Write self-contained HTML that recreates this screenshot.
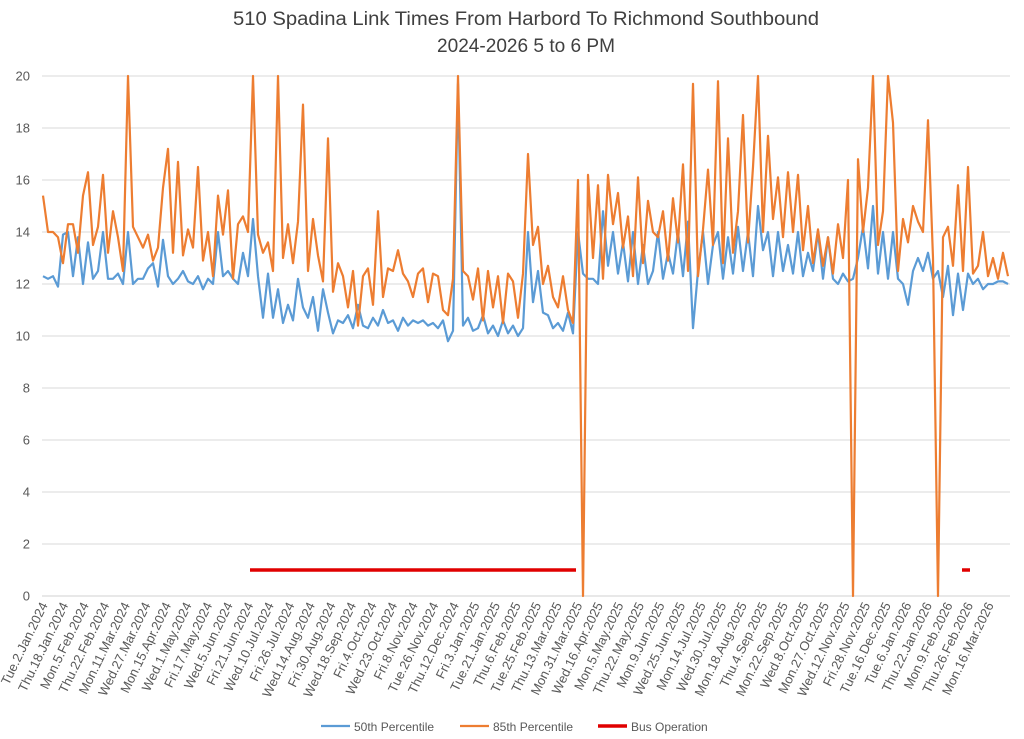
<!DOCTYPE html>
<html><head><meta charset="utf-8"><style>
html,body{margin:0;padding:0;background:#fff;}
svg{display:block;font-family:"Liberation Sans",Arial,sans-serif;}
</style></head><body>
<svg id="chart" width="1024" height="739" viewBox="0 0 1024 739">
<text x="526" y="25" text-anchor="middle" font-size="19" fill="#404040" textLength="586" lengthAdjust="spacingAndGlyphs">510 Spadina Link Times From Harbord To Richmond Southbound</text>
<text x="526" y="52" text-anchor="middle" font-size="19" fill="#404040" textLength="178" lengthAdjust="spacingAndGlyphs">2024-2026 5 to 6 PM</text>
<defs><clipPath id="pc"><rect x="38" y="74" width="976" height="524"/></clipPath></defs>
<g id="grid"></g>
<g id="ylab"></g>
<g id="xlab"></g>
<g id="series" clip-path="url(#pc)"></g>
<g>
<g><line x1="321" y1="726" x2="350" y2="726" stroke="#5b9bd5" stroke-width="2.2"/><text x="354" y="731" font-size="12" fill="#595959">50th Percentile</text></g>
<g><line x1="460" y1="726" x2="489" y2="726" stroke="#ed7d31" stroke-width="2.2"/><text x="493" y="731" font-size="12" fill="#595959">85th Percentile</text></g>
<g><line x1="598" y1="726" x2="627" y2="726" stroke="#e00000" stroke-width="3.5"/><text x="631" y="731" font-size="12" fill="#595959">Bus Operation</text></g>
</g>
</svg>
<script>
const xLabels=["Tue.2.Jan.2024","Thu.18.Jan.2024","Mon.5.Feb.2024","Thu.22.Feb.2024","Mon.11.Mar.2024","Wed.27.Mar.2024","Mon.15.Apr.2024","Wed.1.May.2024","Fri.17.May.2024","Wed.5.Jun.2024","Fri.21.Jun.2024","Wed.10.Jul.2024","Fri.26.Jul.2024","Wed.14.Aug.2024","Fri.30.Aug.2024","Wed.18.Sep.2024","Fri.4.Oct.2024","Wed.23.Oct.2024","Fri.8.Nov.2024","Tue.26.Nov.2024","Thu.12.Dec.2024","Fri.3.Jan.2025","Tue.21.Jan.2025","Thu.6.Feb.2025","Tue.25.Feb.2025","Thu.13.Mar.2025","Mon.31.Mar.2025","Wed.16.Apr.2025","Mon.5.May.2025","Thu.22.May.2025","Mon.9.Jun.2025","Wed.25.Jun.2025","Mon.14.Jul.2025","Wed.30.Jul.2025","Mon.18.Aug.2025","Thu.4.Sep.2025","Mon.22.Sep.2025","Wed.8.Oct.2025","Mon.27.Oct.2025","Wed.12.Nov.2025","Fri.28.Nov.2025","Tue.16.Dec.2025","Tue.6.Jan.2026","Thu.22.Jan.2026","Mon.9.Feb.2026","Thu.26.Feb.2026","Mon.16.Mar.2026"];
const yTicks=[0,2,4,6,8,10,12,14,16,18,20];
const p85=[15.4,14,14,13.8,12.8,14.3,14.3,13.2,15.4,16.3,
13.5,14.2,16.2,13.2,14.8,13.8,12.5,20,14.2,13.8,
13.4,13.9,12.9,13.4,15.7,17.2,13.2,16.7,13.1,14.1,
13.4,16.5,12.9,14,12.3,15.4,13.9,15.6,12.2,14.3,
14.6,14,20,13.9,13.2,13.6,12.5,20,13,14.3,
12.8,14.4,18.9,12.5,14.5,13.1,12.1,17.6,11.7,12.8,
12.3,11.1,12.5,10.4,12.3,12.6,11.2,14.8,11.5,12.6,
12.5,13.3,12.4,12.1,11.5,12.4,12.6,11.3,12.4,12.3,
11,10.8,12.2,20,12.5,12.3,11.4,12.6,10.6,12.5,
11.1,12.3,10.5,12.4,12.1,10.7,12.4,17,13.5,14.2,
12,12.7,11.5,11.1,12.3,11,10.5,16,0,16.2,
13,15.8,12.2,16.2,14.3,15.5,13.4,14.6,12.3,16.1,
12.8,15.2,14,13.8,14.8,12.9,15.3,13.6,16.6,12.5,
19.7,12.3,14.1,16.4,13.5,19.8,12.8,17.6,13.2,14.8,
18.5,13.6,16.5,20,14,17.7,14.5,16.1,13.8,16.3,
14,16.2,13.3,15,12.8,14.1,12.7,13.8,12.4,14.3,
13,16,0,16.8,14,15.7,20,13.5,14.8,20,
18.2,12.5,14.5,13.6,15,14.4,14,18.3,13,0,
13.8,14.2,12.7,15.8,12.5,16.5,12.4,12.7,14,12.3,
13,12.2,13.2,12.3];
const p50=[12.3,12.2,12.3,11.9,13.9,14,12.3,13.8,12,13.6,
12.2,12.5,14,12.2,12.2,12.4,12,14,12,12.2,
12.2,12.6,12.8,11.9,13.7,12.3,12,12.2,12.5,12.1,
12,12.3,11.8,12.2,12,14,12.3,12.5,12.2,12,
13.2,12.3,14.5,12.3,10.7,12.4,10.7,11.8,10.5,11.2,
10.6,12.2,11.1,10.7,11.5,10.2,11.8,10.9,10.1,10.6,
10.5,10.8,10.3,11.2,10.4,10.3,10.7,10.4,11,10.5,
10.6,10.2,10.7,10.4,10.6,10.5,10.6,10.4,10.5,10.3,
10.6,9.8,10.2,19.7,10.4,10.7,10.2,10.3,10.8,10.1,
10.4,10,10.6,10.1,10.4,10,10.3,14,11.3,12.5,
10.9,10.8,10.3,10.5,10.2,10.9,10.1,14,12.4,12.2,
12.2,12,14.8,12.7,14,12.4,13.6,12.1,14,12,
13.5,12,12.5,14,12.2,13.2,12.4,14,12.3,14.4,
10.3,12.5,14,12,13.5,14,12.2,13.8,12.4,14.2,
12.5,14,12.3,15,13.3,14,12.3,14,12.5,13.5,
12.4,14,12.3,13.2,12.5,14,12.2,13.8,12.2,12,
12.4,12.1,12.2,13,14.2,12.6,15,12.4,14,12.2,
14,12.2,12,11.2,12.5,13,12.5,13.2,12.2,12.5,
11.5,12.7,10.8,12.4,11,12.4,12,12.2,11.8,12,
12,12.1,12.1,12];
const busStart=[41.4,183.8];
const busEnd=[106.6,185.4];
const busValue=[1,1];

const NS="http://www.w3.org/2000/svg";
const X0=43,X1=1008,Y0=596,Y20=76;
const N=p85.length;
function xs(i){return X0+(X1-X0)*i/(N-1);}
function ys(v){return Y0-(Y0-Y20)*v/20;}
function lx(k){return 48+(994-48)*k/(xLabels.length-1);}
function mk(t,a,parent){const e=document.createElementNS(NS,t);for(const k in a)e.setAttribute(k,a[k]);parent.appendChild(e);return e;}
const grid=document.getElementById('grid'),ylab=document.getElementById('ylab'),xlab=document.getElementById('xlab'),ser=document.getElementById('series');
yTicks.forEach(v=>{
  const l=mk('line',{x1:42,x2:1010,y1:ys(v),y2:ys(v),stroke:v===0?'#d0d0d0':'#d9d9d9','stroke-width':1},grid);
  
  
  const t=mk('text',{x:30,y:ys(v)+4.5,'text-anchor':'end','font-size':13,fill:'#595959'},ylab);
  t.textContent=v;
  
  
});
xLabels.forEach((s,k)=>{
  const x=lx(k),y=605;
  const t=mk('text',{x:x,y:y,'text-anchor':'end','font-size':13,fill:'#595959',transform:`rotate(-64 ${x} ${y})`},xlab);
  t.textContent=s;
  
  
});
function line(arr,color,name){
  const d=arr.map((v,i)=>(i?'L':'M')+xs(i).toFixed(1)+' '+ys(v).toFixed(1)).join(' ');
  const p=mk('path',{d:d,fill:'none',stroke:color,'stroke-width':2.2,'stroke-linejoin':'round'},ser);
  
  
}
line(p50,'#5b9bd5','series-50th-percentile');
line(p85,'#ed7d31','series-85th-percentile');
busStart.forEach((s,k)=>{
  const b=mk('line',{x1:xs(s),x2:xs(busEnd[k]),y1:ys(busValue[k]),y2:ys(busValue[k]),stroke:'#e00000','stroke-width':3.5},ser);
  
  
});
</script>
</body></html>
